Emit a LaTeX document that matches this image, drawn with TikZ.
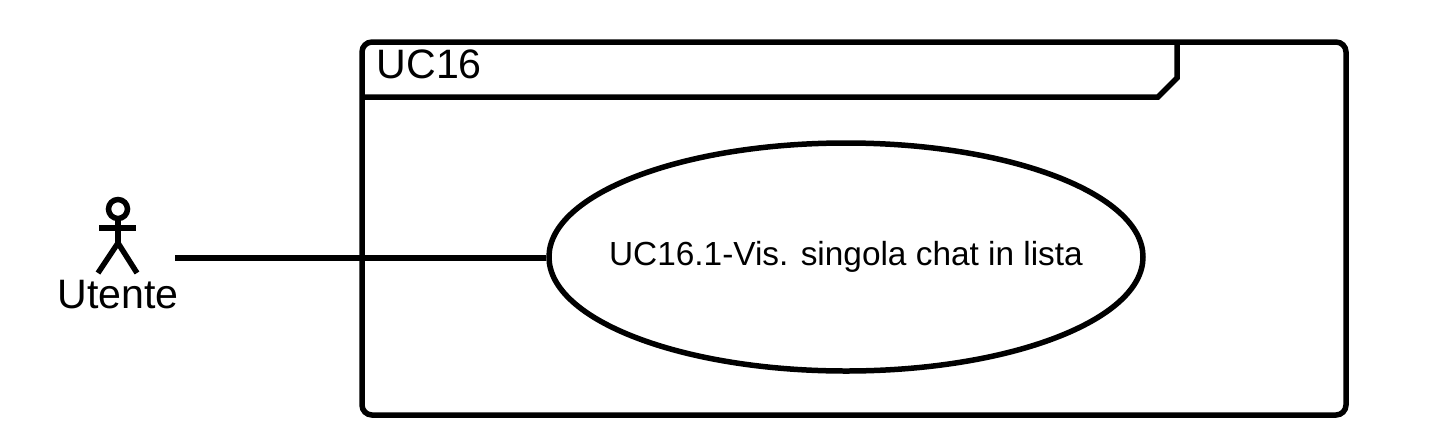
\documentclass[tikz,border=0pt]{standalone}
\usepackage{fontspec}
\setmainfont{Liberation Sans}
\usetikzlibrary{positioning, shapes.geometric}

\begin{document}
\begin{tikzpicture}[x=0.02cm, y=-0.02cm, line width=0.11cm,
    bigtext/.style={font=\fontsize{23.4}{28}\selectfont, inner sep=0pt},
    usecase/.style={draw, ellipse, inner ysep=0pt, inner xsep=-0.6cm, minimum width=594*0.02cm, minimum height=228*0.02cm, font=\fontsize{19}{23}\selectfont}]
    \useasboundingbox (0,0) rectangle (1448,444);

    % Frame and its header tab
    \draw[rounded corners=0.2cm] (362,42) rectangle (1346,415);
    \draw (362,97) -- (1158,97) -- (1177,78) -- (1177,42);
    \node[bigtext, anchor=west] (frametitle) at (374,64) {UC16};

    % Use case
    \node[usecase] (uc1) at (846,257) {UC16.1-Vis. singola chat in lista};

    % Actor
    \coordinate (head) at (118,209);
    \coordinate (neck) at (118,218);
    \coordinate (hip) at (118,243);
    \draw (head) circle (9.5);
    \draw (neck) -- (hip);
    \draw[line cap=butt] (99,228) -- (136,228);
    \draw (98,273) -- (hip) -- (137,273);
    \node[bigtext] (actor) at (118,295) {Utente};

    % Association
    \coordinate (actorend) at (175,258);
    \draw (actorend) -- (uc1.west |- actorend);
\end{tikzpicture}
\end{document}
